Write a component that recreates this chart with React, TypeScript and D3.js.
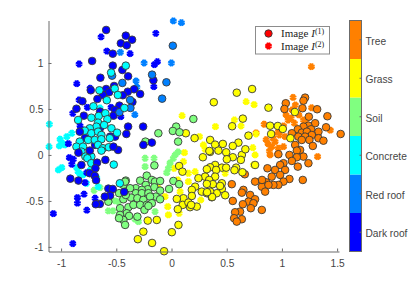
import React, { useEffect, useRef } from 'react';
import * as d3 from 'd3';

type Pt = [number, number];

const classNames = ['Dark roof', 'Red roof', 'Concrete', 'Soil', 'Grass', 'Tree'];
const classColors = ['#0000ff', '#0080ff', '#00ffff', '#80ff80', '#ffff00', '#ff8000'];
const xTicks = [-1, -0.5, 0, 0.5, 1, 1.5];
const yTicks = [-1, -0.5, 0, 0.5, 1];

// image 1, circles
const darkRoofBack: Pt[] = [[-.592,1.359],[-.414,1.297],[-.357,1.253],[-.459,1.214],[-.405,1.192],[-.532,1.101],[-.719,1.022],[-.532,.971],[-.445,.924],[-.393,.855],[-.644,.84],[-.52,.75],[-.731,.703],[-.592,.717],[-.339,.714],[-.396,.688],[-.565,.682],[-.622,.652],[-.284,.663],[-.441,.649],[-.671,.609],[-.354,.576],[-.807,.584],[-.861,.503],[-.472,.536],[-.511,.489],[-.647,.471],[-.526,.427],[-.794,.427],[-.164,.812],[-.647,.293],[-.555,.199],[-.511,.199],[-.692,.109],[-.484,.054],[-.783,.185]];
const darkRoofFront: Pt[] = [[-.843,.025],[-.74,.047],[-.599,-.054],[-.816,-.109],[-.674,-.084],[-.689,-.145],[-.74,-.199],[-.695,-.228],[-.916,-.258],[-.843,-.279],[-.683,-.275],[-.572,-.366],[-.532,-.37],[-.556,-.442],[-.604,-.453],[-.649,-.533],[-.686,-.536],[-.429,-.402],[-.526,.09],[-.409,.228],[-.393,.308],[-.257,.308],[-.831,.253],[-.255,.109],[-.178,.134]];
const redRoof: Pt[] = [[.012,1.188],[-.176,.873],[-.046,.79],[-.085,.612],[-.538,.862],[-.445,.783],[-.375,.598],[-.372,.511],[-.472,.464]];
const concrete: Pt[] = [[-.414,.971],[-.547,.895],[-.653,.703],[-.514,.721],[-.486,.652],[-.586,.595],[-.707,.529],[-.427,.511],[-.846,.38],[-.726,.405],[-.659,.424],[-.599,.453],[-.581,.388],[-.665,.351],[-.61,.326],[-.544,.29],[-.68,.308],[-.74,.29],[-.785,.264],[-.726,.236],[-.665,.253],[-.635,.217],[-.493,.242],[-.559,.182],[-.755,.163],[-.831,.145],[-.695,.163],[-.635,.171],[-.861,.09],[-.801,.09],[-.665,.109],[-.62,.073],[-.568,.084],[-.816,.036],[-.726,-.018],[-.78,-.018],[-.762,-.036],[-.726,-.09],[-.635,.047],[-.523,-.105],[-.468,-.308]];
const soil: Pt[] = [[.198,.391],[.042,.308],[.012,.261],[.072,.247],[-.119,.236],[-.236,.145],[.06,.145],[-.155,-.114],[-.224,-.225],[-.284,-.279],[-.414,-.279],[-.436,-.326],[-.178,-.272],[-.149,-.29],[-.103,-.283],[.017,-.283],[-.022,-.37],[.069,-.318],[-.475,-.416],[-.323,-.362],[-.233,-.326],[-.215,-.373],[-.269,-.38],[-.155,-.351],[-.103,-.388],[-.323,-.416],[-.269,-.416],[-.209,-.416],[-.142,-.453],[-.103,-.482],[-.375,-.362],[-.572,-.508],[-.366,-.464],[-.309,-.471],[-.255,-.489],[-.194,-.453],[-.436,-.482],[-.414,-.435],[-.466,-.579],[-.39,-.568],[-.345,-.543],[-.284,-.543],[-.224,-.543],[-.178,-.525],[-.405,-.634],[-.466,-.652],[-.384,-.663],[-.309,-.671],[-.436,-.707],[-.42,-.761],[-.475,-.688],[-.245,-.598],[-.209,-.554],[-.42,-.29]];
const grass: Pt[] = [[.73,.717],[.591,.677],[.383,.573],[.878,.514],[.646,.395],[.549,.312],[.893,.318],[.963,.315],[1.008,.283],[.902,.228],[.697,.21],[1.117,.467],[1.077,.182],[.13,.236],[.209,.183],[.35,.163],[.465,.12],[.606,.134],[.395,.112],[.555,.098],[.35,.033],[.425,.047],[.495,.029],[.555,-.025],[.637,0],[.501,-.047],[.628,-.054],[.284,-.025],[.069,-.12],[.099,-.182],[.395,-.109],[.35,-.134],[.32,-.155],[.456,-.138],[.585,-.138],[.642,-.188],[.404,-.163],[.304,-.236],[.244,-.253],[.395,-.236],[.341,-.272],[.374,-.318],[.32,-.315],[.456,-.308],[.214,-.345],[.184,-.38],[.274,-.399],[.32,-.416],[.456,-.37],[.41,-.416],[.365,-.46],[.35,-.399],[.184,-.446],[.108,-.471],[.048,-.478],[.102,-.543],[.153,-.518],[.229,-.562],[.168,-.568],[.057,-.59],[.178,-.543],[-.215,-.714],[-.133,-.707],[-.255,-.834],[.003,-.84],[.063,-.761],[-.436,-.696],[-.305,-.916],[-.176,-.957],[-.067,-1.047],[.669,.062],[.757,-.109],[.343,.043],[.57,-.166],[.495,-.138],[.44,-.337],[.486,-.438],[.368,-.457],[.322,-.405]];
const tree: Pt[] = [[1.21,.623],[1.195,.59],[1.035,.562],[1.023,.5],[1.186,.508],[1.319,.497],[1.412,.421],[1.244,.416],[1.4,.301],[1.301,.345],[1.24,.318],[1.195,.308],[1.144,.279],[1.09,.236],[1.331,.253],[1.264,.279],[1.18,.242],[1.226,.253],[1.271,.217],[1.149,.199],[1.21,.199],[1.18,.163],[1.249,.163],[1.331,.182],[1.376,.155],[1.28,.098],[1.12,.109],[1.165,.054],[1.135,.047],[1.195,-.018],[1.135,-.025],[1.068,0],[.968,.008],[1.09,-.065],[1.014,-.09],[1.24,-.09],[1.532,.228],[.984,-.109],[.869,-.145],[1.029,-.163],[.938,-.163],[1.144,-.127],[.984,-.217],[.908,-.236],[1.068,-.261],[1.014,-.29],[1.189,-.272],[.968,-.326],[.923,-.326],[.857,-.297],[.757,-.29],[.818,-.345],[.878,-.326],[.848,-.399],[.546,-.318],[.651,-.38],[.637,-.41],[.712,-.435],[.757,-.482],[.697,-.508],[.742,-.525],[.646,-.536],[.818,-.598],[.718,-.579],[.555,-.5],[.621,-.616],[.576,-.623],[.567,-.688],[.637,-.699],[.591,-.725],[.664,-.21],[.82,-.272]];

// image 2, asterisks
const darkRoofStars: Pt[] = [[-.638,1.283],[-.142,1.323],[-.586,1.13],[-.375,1.101],[-.837,.989],[-.155,.982],[-.128,1.014],[-.858,.775],[-.16,.742],[-.737,.725],[-.837,.598],[-.762,.518],[-.894,.453],[-.459,.416],[-.547,.518],[-.828,.318],[-.934,.123],[-.925,-.029],[-.889,-.047],[-.903,-.101],[-.783,-.301],[-.792,-.427],[-.852,-.464],[-.852,-.525],[-.692,-.471],[-.767,-.601],[-1.07,-.638],[-.894,-.964],[-.767,-.192]];
const redRoofStars: Pt[] = [[.017,1.457],[.09,1.438],[-.463,1.116],[-.248,1],[-.001,1],[-.321,.804],[-.332,.438],[-.314,.739]];
const concreteStars: Pt[] = [[-1.106,.334],[-.903,.236],[-.948,.199],[-1.009,.171],[-1.109,.09],[-1.015,.098],[-.994,.134],[-1.024,-.163],[-.994,-.138],[-.858,-.138],[-.828,-.21],[-.677,-.247],[-.846,-.182],[-.801,-.217],[-.771,-.308],[-.665,-.345],[-.647,.511],[-.966,.109],[-.737,-.163]];
const soilStars: Pt[] = [[-.701,-.384],[-.647,-.355],[-.239,-.036],[-.158,-.036],[-.239,-.127],[.017,-.036],[-.013,-.086],[-.028,-.145],[.033,0],[-.043,-.192],[-.572,-.609],[-.529,-.609],[-.511,-.5],[-.149,-.616],[-.33,-.699],[-.481,-.674],[-.3,-.725],[-.481,-.508],[.06,.033]];
const grassStars: Pt[] = [[.096,.427],[.253,.199],[.676,.579],[.748,.547],[.57,.38],[.398,.308],[.63,.315],[.766,.228],[.117,.025],[.289,.109],[.304,.062],[.757,0],[.742,-.109],[.214,-.182],[.153,-.199],[.108,-.073],[.024,-.145],[.486,-.199],[.153,-.29],[.078,-.399],[.265,-.489],[-.034,-.562],[-.028,-.652],[.069,-.634],[.057,-.272],[-.058,-.453],[-.119,-.362],[.736,.079]];
const treeStars: Pt[] = [[1.267,.96],[1.101,.625],[1.122,.543],[1.269,.513],[1.038,.435],[1.083,.399],[1.153,.435],[1.219,.362],[1.113,.345],[.839,.334],[.766,.241],[1.015,.315],[1.438,.27],[.977,.217],[.918,.182],[.857,.166],[.923,.217],[1.029,.199],[.968,.253],[.938,.145],[.908,.09],[1.014,.09],[.893,0],[.968,.073],[1.323,-.018],[1.195,.38],[.887,.043],[.963,.008],[1.056,.38],[.875,.12],[1.092,.489]];

const width = 412;
const height = 283;
const plotLeft = 48.5;
const plotRight = 339;
const plotTop = 20.5;
const plotBottom = 251.5;
const barLeft = 349.5;
const barRight = 361.5;
const axisColor = '#6b6b6b';
const textColor = '#454545';
const sansFont = '"Liberation Sans", Arial, sans-serif';
const serifFont = '"Liberation Serif", "DejaVu Serif", serif';

const xScale = d3.scaleLinear().domain([-1.114, 1.517]).range([plotLeft, plotRight]);
const yScale = d3.scaleLinear().domain([-1.05, 1.462]).range([plotBottom, plotTop]);
const barScale = d3.scaleBand<string>().domain(classNames).range([plotBottom, plotTop]);

// matlab style asterisk, spokes all through the centre
const asterisk: d3.SymbolType = {
  draw(context, size) {
    const r = Math.sqrt(size);
    for (let i = 0; i < 4; i++) {
      const a = (i * Math.PI) / 4 + Math.PI / 8;
      context.moveTo(-r * Math.cos(a), -r * Math.sin(a));
      context.lineTo(r * Math.cos(a), r * Math.sin(a));
    }
  }
};
const starPath = d3.symbol().type(asterisk).size(12.5)() as string;

const Stars = ({ points, color }: { points: Pt[]; color: string }) => (
  <g stroke={color} strokeWidth={2} fill="none">
    {points.map(([x, y], i) => (
      <path key={i} d={starPath} transform={`translate(${xScale(x)},${yScale(y)})`} />
    ))}
  </g>
);

const Circles = ({ points, color }: { points: Pt[]; color: string }) => (
  <g fill={color} stroke="#3a3a3a" strokeWidth={0.9}>
    {points.map(([x, y], i) => (
      <circle key={i} cx={xScale(x)} cy={yScale(y)} r={3.8} />
    ))}
  </g>
);

export default function App() {
  const axisLeftRef = useRef<SVGGElement>(null);
  const axisBottomRef = useRef<SVGGElement>(null);

  useEffect(() => {
    const styleAxis = (el: d3.Selection<SVGGElement, unknown, null, undefined>) => {
      el.selectAll('path, line').attr('stroke', axisColor);
      el.selectAll('text')
        .attr('fill', textColor)
        .attr('font-family', sansFont)
        .attr('font-size', 10.2);
    };
    const left = d3.select(axisLeftRef.current as SVGGElement);
    left.selectAll('*').remove();
    left.call(
      d3.axisLeft(yScale).tickValues(yTicks).tickSizeInner(-3).tickSizeOuter(0).tickPadding(5).tickFormat(d => String(d))
    );
    styleAxis(left);
    const bottom = d3.select(axisBottomRef.current as SVGGElement);
    bottom.selectAll('*').remove();
    bottom.call(
      d3.axisBottom(xScale).tickValues(xTicks).tickSizeInner(-3).tickSizeOuter(0).tickPadding(8).tickFormat(d => String(d))
    );
    styleAxis(bottom);
  }, []);

  return (
    <svg width={width} height={height} style={{ position: 'absolute', left: 0, top: 0 }}>
      <rect width={width} height={height} fill="#fff" />
      <Stars points={treeStars} color={classColors[5]} />
      <Stars points={grassStars} color={classColors[4]} />
      <Stars points={soilStars} color={classColors[3]} />
      <Stars points={concreteStars} color={classColors[2]} />
      <Stars points={redRoofStars} color={classColors[1]} />
      <Stars points={darkRoofStars} color={classColors[0]} />
      <Circles points={darkRoofBack} color={classColors[0]} />
      <Circles points={tree} color={classColors[5]} />
      <Circles points={grass} color={classColors[4]} />
      <Circles points={soil} color={classColors[3]} />
      <Circles points={redRoof} color={classColors[1]} />
      <Circles points={concrete} color={classColors[2]} />
      <Circles points={darkRoofFront} color={classColors[0]} />
      <g ref={axisLeftRef} transform={`translate(${plotLeft},0)`} />
      <g ref={axisBottomRef} transform={`translate(0,${plotBottom})`} />
      {/* legend */}
      <g>
        <rect x={255.5} y={26.5} width={74} height={27.5} fill="#fff" stroke="#8c8c8c" />
        <circle cx={268.5} cy={33.5} r={3.7} fill="#ff0000" stroke="#3a3a3a" strokeWidth={0.9} />
        <path d={starPath} transform="translate(268.5,46)" stroke="#ff0000" strokeWidth={2} fill="none" />
        <text x={281} y={37} fontFamily={serifFont} fontSize={11} fill="#222">
          Image <tspan fontStyle="italic">I</tspan>
          <tspan dy={-3.5} fontSize={8}>(1)</tspan>
        </text>
        <text x={281} y={50} fontFamily={serifFont} fontSize={11} fill="#222">
          Image <tspan fontStyle="italic">I</tspan>
          <tspan dy={-3.5} fontSize={8}>(2)</tspan>
        </text>
      </g>
      {/* colorbar */}
      <g>
        {classNames.map((name, i) => (
          <g key={name}>
            <rect
              x={barLeft}
              y={barScale(name)}
              width={barRight - barLeft}
              height={barScale.bandwidth()}
              fill={classColors[i]}
            />
            <line
              x1={barRight - 2}
              x2={barRight}
              y1={(barScale(name) as number) + barScale.bandwidth() / 2}
              y2={(barScale(name) as number) + barScale.bandwidth() / 2}
              stroke={axisColor}
            />
            <text
              x={365.5}
              y={(barScale(name) as number) + barScale.bandwidth() / 2 + 5}
              fontFamily={sansFont}
              fontSize={10.2}
              fill={textColor}
            >
              {name}
            </text>
          </g>
        ))}
        <rect
          x={barLeft}
          y={plotTop}
          width={barRight - barLeft}
          height={plotBottom - plotTop}
          fill="none"
          stroke={axisColor}
        />
      </g>
    </svg>
  );
}
